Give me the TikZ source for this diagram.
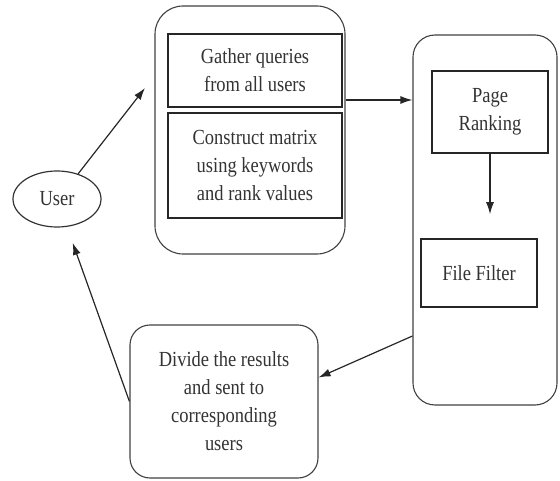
\documentclass[tikz,border=0pt]{standalone}
\usepackage{fontspec}
\setmainfont{Liberation Serif}[FakeStretch=0.86]
\usetikzlibrary{shapes.geometric,arrows.meta}

\tikzset{every picture/.style={line width=0.75pt}}
\tikzset{
	outer/.style={draw=black!75, line width=1.1pt, rounded corners=#1, inner sep=0pt},
	inner/.style={draw=black!85, line width=1.6pt, inner sep=0pt, align=center},
	label/.style={text=black!80, font=\fontsize{21.5}{28}\selectfont},
	arr/.style={-{Latex[length=12pt,width=8pt]}, line width=1.2pt, black!85}
}

\begin{document}
\begin{tikzpicture}[x=1pt,y=-1pt]
		\useasboundingbox (0,0) rectangle (560,481);
		\node[outer=28pt, minimum width=190pt, minimum height=248pt] (box1) at (250,130) {};
		\node[outer=22pt, minimum width=144pt, minimum height=370pt] (box2) at (485,220) {};
		\node[draw=black!80, line width=1.2pt, ellipse, inner sep=0pt, minimum width=88pt, minimum height=56pt, label] (user) at (57,199) {User};
		\node[inner, label, minimum width=174pt, minimum height=73pt] (gather) at (255,70.5) {Gather queries\\from all users};
		\node[inner, label, minimum width=174pt, minimum height=105pt] (construct) at (255,165.5) {Construct matrix\\using keywords\\and rank values};
		\node[inner, label, minimum width=116pt, minimum height=82pt] (page) at (490,112) {Page\\Ranking};
		\node[inner, label, minimum width=116pt, minimum height=68pt] (filter) at (479,273) {File Filter};
		\node[outer=20pt, label, align=center, minimum width=188pt, minimum height=153pt] (divide) at (224,401.5) {Divide the results\\and sent to\\corresponding\\users};
		\coordinate (query) at (145,88);
		\draw[arr] (user.50) -- (query);
		\draw[arr] ([yshift=30pt]box1.east) -- ([yshift=30pt]box1.east -| box2.west);
		\draw[arr, shorten >=24pt] (page.south) -- (page.south |- filter.north);
		\draw[arr] ([yshift=-116pt]box2.west) -- ([yshift=24pt]divide.east);
		\draw[arr, shorten >=17pt] (divide.west) -- (user);
	\end{tikzpicture}
\end{document}
